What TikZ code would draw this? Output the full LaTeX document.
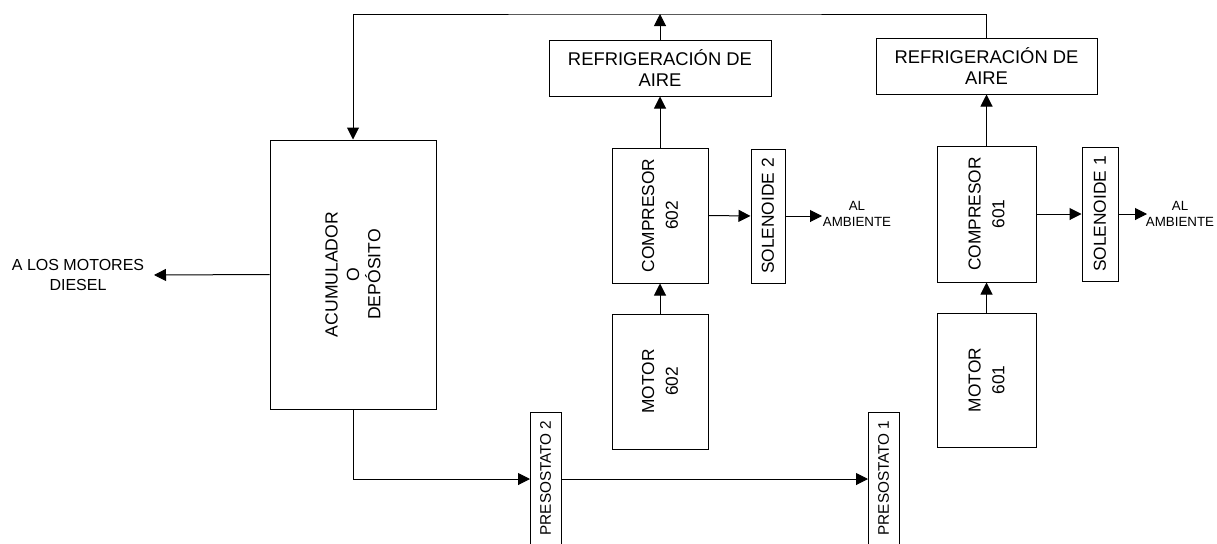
\documentclass[tikz,border=0pt]{standalone}
\usepackage{fontspec}
\setmainfont{Liberation Sans}
\usetikzlibrary{arrows.meta}
\tikzset{
  box/.style={draw, line width=0.75pt, rectangle, inner sep=0pt},
  vlabel/.style={rotate=90, align=center, inner sep=0pt},
  hlabel/.style={align=center, inner sep=0pt},
  arr/.style={-{Triangle[length=9pt,width=9pt]}, line width=0.75pt},
  conn/.style={line width=0.75pt}
}
\begin{document}
\begin{tikzpicture}[x=0.75pt,y=-0.75pt]
\clip (0,0) rectangle (1217,543);
\fill[white] (0,0) rectangle (1217,543);

% boxes
\node[box, minimum width=124.5pt, minimum height=201.75pt] (acc) at (353,274.5) {};
\node[vlabel, font=\fontsize{13.2}{16}\selectfont] at (acc) {ACUMULADOR\\O\\DEPÓSITO};

\node[box, minimum width=166.5pt, minimum height=42pt] (ref1) at (660,68) {};
\node[hlabel, font=\fontsize{13.8}{16.3}\selectfont] at (ref1) {REFRIGERACIÓN DE\\AIRE};

\node[box, minimum width=165.75pt, minimum height=42pt] (ref2) at (986.5,66) {};
\node[hlabel, font=\fontsize{13.8}{16.3}\selectfont] at (ref2) {REFRIGERACIÓN DE\\AIRE};

\node[box, minimum width=72pt, minimum height=101.25pt] (comp2) at (660,215.5) {};
\node[vlabel, font=\fontsize{13}{17.8}\selectfont] at (comp2) {COMPRESOR\\602};

\node[box, minimum width=25.5pt, minimum height=100.5pt] (sol2) at (768,216) {};
\node[vlabel, font=\fontsize{13}{16}\selectfont] at (sol2) {SOLENOIDE 2};

\node[box, minimum width=72pt, minimum height=101.25pt] (mot2) at (660,381.5) {};
\node[vlabel, font=\fontsize{13}{17.8}\selectfont] at (mot2) {MOTOR\\602};

\node[box, minimum width=74.25pt, minimum height=102pt] (comp1) at (986.5,214) {};
\node[vlabel, font=\fontsize{13}{17.8}\selectfont] at (comp1) {COMPRESOR\\601};

\node[box, minimum width=27pt, minimum height=100.5pt] (sol1) at (1100,214) {};
\node[vlabel, font=\fontsize{13}{16}\selectfont] at (sol1) {SOLENOIDE 1};

\node[box, minimum width=74.25pt, minimum height=100.5pt] (mot1) at (986.5,380) {};
\node[vlabel, font=\fontsize{13}{17.8}\selectfont] at (mot1) {MOTOR\\601};

\node[box, minimum width=23.25pt, minimum height=111pt] (pres2) at (545.5,486) {};
\node[vlabel, font=\fontsize{11.5}{14}\selectfont] at (545.5,478) {PRESOSTATO 2};

\node[box, minimum width=23.25pt, minimum height=111pt] (pres1) at (883.5,486) {};
\node[vlabel, font=\fontsize{11.5}{14}\selectfont] at (883.5,478) {PRESOSTATO 1};

% free labels
\node[hlabel, font=\fontsize{12}{15}\selectfont] (diesel) at (78,275) {A LOS MOTORES\\DIESEL};
\node[hlabel, font=\fontsize{10}{12}\selectfont] (amb2) at (857,214) {AL\\AMBIENTE};
\node[hlabel, font=\fontsize{10}{12}\selectfont] (amb1) at (1180,214) {AL\\AMBIENTE};

% coordinates
\coordinate (top) at (660,14);
\coordinate (dieselend) at (154,275);
\coordinate (out2) at (822,216);
\coordinate (out1) at (1147,214);
\coordinate (p2in) at (530,479);
\coordinate (p2out) at (561,479);
\coordinate (p1in) at (868,479);

% connectors
\draw[arr] (ref2.north) |- (top) -| (acc.north);
\draw[arr] (ref1.north) -- (top);
\draw[arr] (comp2.north) -- (ref1.south);
\draw[arr] (mot2.north) -- (comp2.south);
\draw[arr] (comp2.east) -- (sol2.west);
\draw[arr] (sol2.east) -- (out2);
\draw[arr] (comp1.north) -- (ref2.south);
\draw[arr] (mot1.north) -- (comp1.south);
\draw[arr] (comp1.east) -- (sol1.west);
\draw[arr] (sol1.east) -- (out1);
\draw[arr] (acc.west) -- (dieselend);
\draw[arr] (acc.south) |- (p2in);
\draw[arr] (p2out) -- (p1in);
\end{tikzpicture}
\end{document}
